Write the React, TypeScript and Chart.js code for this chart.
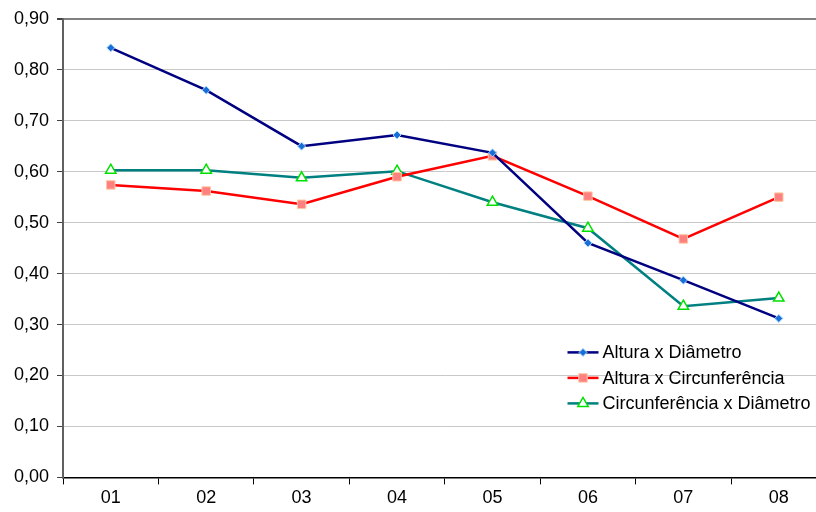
import React, { useEffect, useRef } from "react";
import { Chart, registerables } from "chart.js";
import { drawPoint } from "chart.js/helpers";

Chart.register(...registerables);

const categories = ["01", "02", "03", "04", "05", "06", "07", "08"];
const alturaDiametro = [0.843, 0.76, 0.65, 0.672, 0.637, 0.46, 0.387, 0.312];
const alturaCircunferencia = [0.574, 0.562, 0.536, 0.59, 0.631, 0.552, 0.468, 0.55];
const circunferenciaDiametro = [0.603, 0.603, 0.588, 0.601, 0.54, 0.489, 0.336, 0.352];
const seriesNames = ["Altura x Diâmetro", "Altura x Circunferência", "Circunferência x Diâmetro"];

const FONT = "'Liberation Sans', Arial, sans-serif";
const FONT_SIZE = 18;

// Legend drawn inside the plot area, lower right
const insideLegend = {
  id: "insideLegend",
  afterDraw(chart: any) {
    const { ctx, chartArea } = chart;
    const x0 = chartArea.right - 259;
    const y0 = chartArea.bottom - 125;
    const rowH = 25.5;
    ctx.save();
    ctx.font = `${FONT_SIZE}px ${FONT}`;
    ctx.textBaseline = "middle";
    ctx.textAlign = "left";
    chart.data.datasets.forEach((ds: any, i: number) => {
      const y = y0 + i * rowH;
      ctx.strokeStyle = ds.borderColor;
      ctx.lineWidth = 2.5;
      ctx.beginPath();
      ctx.moveTo(x0, y);
      ctx.lineTo(x0 + 31, y);
      ctx.stroke();
      const opts = chart.getDatasetMeta(i).data[0].options;
      ctx.fillStyle = opts.backgroundColor;
      ctx.strokeStyle = opts.borderColor;
      ctx.lineWidth = opts.borderWidth;
      drawPoint(ctx, { pointStyle: opts.pointStyle, radius: opts.radius, rotation: 0, borderWidth: opts.borderWidth } as any, x0 + 15.5, y);
      ctx.fillStyle = "#000000";
      ctx.fillText(ds.label, x0 + 35, y + 1);
    });
    ctx.restore();
  },
};

export default function App() {
  const ref = useRef<HTMLCanvasElement>(null);

  useEffect(() => {
    if (!ref.current) return;
    const chart = new Chart(ref.current, {
      type: "line",
      data: {
        labels: categories,
        datasets: [
          {
            label: seriesNames[0],
            data: alturaDiametro,
            borderColor: "#000080",
            borderWidth: 2.5,
            pointStyle: "rectRot",
            pointRadius: 4,
            pointBackgroundColor: "#1a6fd6",
            pointBorderColor: "#a8d8ff",
            pointBorderWidth: 1,
            tension: 0,
          },
          {
            label: seriesNames[1],
            data: alturaCircunferencia,
            borderColor: "#ff0000",
            borderWidth: 2.5,
            pointStyle: "rect",
            pointRadius: 6,
            pointBackgroundColor: "#ff8080",
            pointBorderColor: "#ffc8a0",
            pointBorderWidth: 1,
            tension: 0,
          },
          {
            label: seriesNames[2],
            data: circunferenciaDiametro,
            borderColor: "#008080",
            borderWidth: 2.5,
            pointStyle: "triangle",
            pointRadius: 6,
            pointBackgroundColor: "#ffffff",
            pointBorderColor: "#00e000",
            pointBorderWidth: 1.5,
            tension: 0,
          },
        ],
      },
      options: {
        animation: false,
        responsive: false,
        maintainAspectRatio: false,
        layout: { padding: { top: 12, left: 6, right: 3, bottom: 0 } },
        plugins: {
          legend: { display: false },
          tooltip: { enabled: false },
        },
        scales: {
          x: {
            type: "category",
            offset: true,
            grid: {
              offset: true,
              drawOnChartArea: false,
              drawTicks: true,
              tickLength: 7,
              color: "#000000",
              lineWidth: 1,
            },
            border: { color: "#000000", width: 1.5 },
            ticks: {
              color: "#000000",
              font: { family: FONT, size: FONT_SIZE },
              padding: 3,
              maxRotation: 0,
            },
          },
          y: {
            min: 0,
            max: 0.9,
            grid: {
              color: (c: any) => (c.tick && Math.abs(c.tick.value - 0.9) < 1e-6 ? "#808080" : "#c8c8c8"),
              lineWidth: (c: any) => (c.tick && Math.abs(c.tick.value - 0.9) < 1e-6 ? 2 : 1),
              tickColor: "#404040",
              tickLength: 6,
              drawTicks: true,
            },
            border: { color: "#606060", width: 2 },
            ticks: {
              stepSize: 0.1,
              color: "#000000",
              font: { family: FONT, size: FONT_SIZE },
              padding: 8,
              callback: (v: any) => Number(v).toFixed(2).replace(".", ","),
            },
          },
        },
      },
      plugins: [insideLegend],
    });
    return () => chart.destroy();
  }, []);

  return (
    <div style={{ position: "absolute", left: 0, top: 0, width: 816, height: 512, overflow: "hidden", background: "#ffffff" }}>
      <canvas ref={ref} width={834} height={512} style={{ display: "block" }} />
    </div>
  );
}
